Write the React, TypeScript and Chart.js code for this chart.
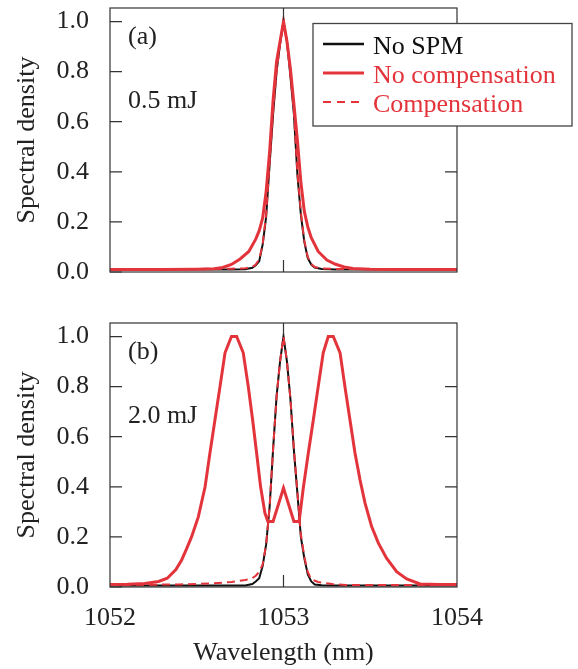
import React, { useEffect, useRef } from "react";
import { Chart, registerables } from "chart.js";

Chart.register(...registerables);

// ---------- data ----------
const xTickValues = [1052, 1053, 1054];
const yTickStep = 0.2;

// Panel (a) 0.5 mJ
const noSpmAWavelength = [1052.0, 1052.4, 1052.7, 1052.78, 1052.82, 1052.84, 1052.86, 1052.88, 1052.9, 1052.92, 1052.94, 1052.96, 1052.98, 1053.0, 1053.02, 1053.04, 1053.06, 1053.08, 1053.1, 1053.12, 1053.14, 1053.16, 1053.18, 1053.22, 1053.3, 1053.6, 1054.0];
const noSpmAValues = [0.01, 0.01, 0.01, 0.011, 0.017, 0.027, 0.043, 0.11, 0.22, 0.43, 0.63, 0.8, 0.91, 1.0, 0.92, 0.78, 0.63, 0.39, 0.23, 0.12, 0.055, 0.03, 0.018, 0.012, 0.01, 0.01, 0.01];

const noCompAWavelength = [1052.0, 1052.3, 1052.5, 1052.6, 1052.65, 1052.7, 1052.75, 1052.8, 1052.84, 1052.86, 1052.88, 1052.9, 1052.92, 1052.94, 1052.96, 1052.98, 1053.0, 1053.02, 1053.04, 1053.06, 1053.08, 1053.1, 1053.12, 1053.14, 1053.16, 1053.2, 1053.25, 1053.3, 1053.35, 1053.4, 1053.5, 1053.7, 1054.0];
const noCompAValues = [0.01, 0.01, 0.011, 0.013, 0.018, 0.03, 0.052, 0.082, 0.131, 0.165, 0.216, 0.322, 0.481, 0.685, 0.84, 0.92, 1.0, 0.92, 0.81, 0.67, 0.526, 0.36, 0.242, 0.18, 0.137, 0.082, 0.048, 0.031, 0.02, 0.014, 0.011, 0.01, 0.01];

const compAWavelength = [1052.0, 1052.4, 1052.7, 1052.78, 1052.82, 1052.84, 1052.86, 1052.88, 1052.9, 1052.92, 1052.94, 1052.96, 1052.98, 1053.0, 1053.02, 1053.04, 1053.06, 1053.08, 1053.1, 1053.12, 1053.14, 1053.16, 1053.18, 1053.22, 1053.3, 1053.6, 1054.0];
const compAValues = [0.012, 0.012, 0.013, 0.015, 0.02, 0.03, 0.05, 0.11, 0.23, 0.44, 0.64, 0.8, 0.91, 1.0, 0.92, 0.79, 0.64, 0.4, 0.24, 0.125, 0.06, 0.032, 0.02, 0.014, 0.012, 0.011, 0.011];

// Panel (b) 2.0 mJ
const noSpmBWavelength = [1052.0, 1052.4, 1052.7, 1052.78, 1052.82, 1052.84, 1052.86, 1052.88, 1052.9, 1052.92, 1052.94, 1052.96, 1052.98, 1053.0, 1053.02, 1053.04, 1053.06, 1053.08, 1053.1, 1053.12, 1053.14, 1053.16, 1053.18, 1053.22, 1053.3, 1053.6, 1054.0];
const noSpmBValues = [0.006, 0.006, 0.006, 0.006, 0.012, 0.022, 0.035, 0.085, 0.17, 0.32, 0.55, 0.76, 0.9, 1.0, 0.9, 0.75, 0.545, 0.375, 0.2, 0.115, 0.05, 0.022, 0.01, 0.007, 0.006, 0.006, 0.006];

const noCompBWavelength = [1052.0, 1052.1, 1052.2, 1052.28, 1052.33, 1052.38, 1052.413, 1052.44, 1052.47, 1052.509, 1052.548, 1052.576, 1052.605, 1052.634, 1052.663, 1052.7, 1052.73, 1052.768, 1052.797, 1052.822, 1052.845, 1052.868, 1052.893, 1052.91, 1052.94, 1053.0, 1053.06, 1053.09, 1053.114, 1053.143, 1053.172, 1053.2, 1053.229, 1053.258, 1053.287, 1053.326, 1053.354, 1053.383, 1053.412, 1053.441, 1053.47, 1053.508, 1053.547, 1053.594, 1053.652, 1053.71, 1053.787, 1053.9, 1054.0];
const noCompBValues = [0.01, 0.011, 0.014, 0.022, 0.035, 0.07, 0.108, 0.15, 0.2, 0.28, 0.4, 0.535, 0.668, 0.8, 0.935, 1.0, 1.0, 0.935, 0.8, 0.668, 0.535, 0.4, 0.295, 0.262, 0.262, 0.395, 0.262, 0.262, 0.395, 0.535, 0.668, 0.8, 0.935, 1.0, 1.0, 0.935, 0.8, 0.668, 0.535, 0.428, 0.335, 0.241, 0.175, 0.115, 0.061, 0.032, 0.012, 0.01, 0.01];

const compBWavelength = [1052.0, 1052.4, 1052.6, 1052.7, 1052.78, 1052.82, 1052.84, 1052.86, 1052.88, 1052.9, 1052.92, 1052.94, 1052.96, 1052.98, 1053.0, 1053.02, 1053.04, 1053.06, 1053.08, 1053.1, 1053.12, 1053.14, 1053.16, 1053.2, 1053.28, 1053.36, 1054.0];
const compBValues = [0.008, 0.01, 0.015, 0.02, 0.028, 0.035, 0.045, 0.06, 0.09, 0.17, 0.32, 0.55, 0.76, 0.9, 1.0, 0.9, 0.75, 0.55, 0.38, 0.21, 0.12, 0.06, 0.03, 0.02, 0.012, 0.008, 0.008];

const seriesLabels = ["No SPM", "No compensation", "Compensation"];
const panelTags = ["(a)", "(b)"];
const panelEnergies = ["0.5 mJ", "2.0 mJ"];

// ---------- styling ----------
const RED = "#e3343c";
const BLACK = "#111111";
const TEXT = "#222222";
const FRAME = "#333333";
const FAMILY = "'Liberation Serif', 'Times New Roman', Times, serif";
const FONT = { family: FAMILY, size: 26, lineHeight: 1.2 };

const zip = (xs: number[], ys: number[]) => xs.map((x, i) => ({ x, y: ys[i] }));

function makePlugin(tag: string, energy: string, withLegend: boolean) {
  return {
    id: "panelDecor" + tag,
    afterDraw(chart: any) {
      const { ctx, chartArea: a, scales } = chart;
      const xs = scales.x;
      const ys = scales.y;
      ctx.save();
      // frame
      ctx.strokeStyle = FRAME;
      ctx.lineWidth = 1.2;
      ctx.strokeRect(a.left, a.top, a.right - a.left, a.bottom - a.top);
      // inside ticks
      ctx.lineWidth = 1.2;
      ctx.beginPath();
      ys.ticks.forEach((t: any) => {
        const py = ys.getPixelForValue(t.value);
        ctx.moveTo(a.left, py);
        ctx.lineTo(a.left + 12, py);
        if (t.value > 0.001 && t.value < 0.999) {
          ctx.moveTo(a.right, py);
          ctx.lineTo(a.right - 12, py);
        }
      });
      xs.ticks.forEach((t: any) => {
        if (t.value > xs.min && t.value < xs.max) {
          const px = xs.getPixelForValue(t.value);
          ctx.moveTo(px, a.top);
          ctx.lineTo(px, a.top + 12);
          ctx.moveTo(px, a.bottom);
          ctx.lineTo(px, a.bottom - 12);
        }
      });
      ctx.stroke();

      // panel annotations
      ctx.fillStyle = TEXT;
      ctx.font = `26px ${FAMILY}`;
      ctx.textAlign = "left";
      ctx.textBaseline = "alphabetic";
      ctx.fillText(tag, a.left + 18, a.top + 36);
      ctx.fillText(energy, a.left + 18, a.top + 100);

      if (withLegend) {
        const bx = a.right - 144;
        const by = a.top + 15.5;
        const bw = 259;
        const bh = 102.5;
        ctx.fillStyle = "#ffffff";
        ctx.fillRect(bx, by, bw, bh);
        ctx.strokeStyle = "#444444";
        ctx.lineWidth = 1.3;
        ctx.strokeRect(bx, by, bw, bh);
        const rows = [
          { label: seriesLabels[0], color: BLACK, dash: [] as number[], width: 2.5, text: BLACK },
          { label: seriesLabels[1], color: RED, dash: [] as number[], width: 3, text: RED },
          { label: seriesLabels[2], color: RED, dash: [8, 6], width: 2, text: RED },
        ];
        rows.forEach((r, i) => {
          const ly = by + 20.5 + i * 29;
          ctx.beginPath();
          ctx.setLineDash(r.dash);
          ctx.strokeStyle = r.color;
          ctx.lineWidth = r.width;
          ctx.moveTo(bx + 10, ly);
          ctx.lineTo(bx + 51, ly);
          ctx.stroke();
          ctx.setLineDash([]);
          ctx.fillStyle = r.text;
          ctx.fillText(r.label, bx + 60, ly + 10);
        });
      }
      ctx.restore();
    },
  };
}

function makeConfig(
  noSpm: { x: number; y: number }[],
  noComp: { x: number; y: number }[],
  comp: { x: number; y: number }[],
  topPad: number,
  xHeight: number,
  showX: boolean,
  plugin: any
) {
  return {
    type: "line" as const,
    data: {
      datasets: [
        { label: seriesLabels[0], data: noSpm, borderColor: BLACK, borderWidth: 2, pointRadius: 0, tension: 0, fill: false, order: 3 },
        { label: seriesLabels[1], data: noComp, borderColor: RED, borderWidth: 3, pointRadius: 0, tension: 0, fill: false, order: 2 },
        { label: seriesLabels[2], data: comp, borderColor: RED, borderWidth: 2, borderDash: [8, 5], pointRadius: 0, tension: 0, fill: false, order: 1 },
      ],
    },
    options: {
      animation: false,
      responsive: false,
      maintainAspectRatio: false,
      devicePixelRatio: 1,
      layout: { padding: { left: 0, right: 121, top: topPad, bottom: 0 } },
      plugins: { legend: { display: false }, tooltip: { enabled: false } },
      scales: {
        x: {
          type: "linear",
          min: xTickValues[0],
          max: xTickValues[xTickValues.length - 1],
          afterBuildTicks: (s: any) => {
            s.ticks = xTickValues.map((v) => ({ value: v }));
          },
          ticks: {
            display: showX,
            stepSize: 1,
            padding: 8,
            maxRotation: 0,
            autoSkip: false,
            color: TEXT,
            font: FONT,
            callback: (v: any) => String(v),
          },
          grid: { display: false },
          border: { display: false },
          title: { display: showX, text: "Wavelength (nm)", color: TEXT, font: FONT, padding: { top: 0, bottom: 0 } },
          afterFit: (s: any) => {
            s.height = xHeight;
            s.paddingLeft = 0;
            s.paddingRight = 0;
          },
        },
        y: {
          type: "linear",
          min: 0,
          max: 1.054,
          ticks: {
            stepSize: yTickStep,
            includeBounds: false,
            padding: 13,
            color: TEXT,
            font: FONT,
            callback: (v: any) => Number(v).toFixed(1),
          },
          grid: { display: false },
          border: { display: false },
          title: { display: true, text: "Spectral density", color: TEXT, font: FONT, padding: { top: 12, bottom: 0 } },
          afterFit: (s: any) => {
            s.width = 110;
            s.paddingTop = 0;
            s.paddingBottom = 0;
          },
        },
      },
    },
    plugins: [plugin],
  };
}

export default function App() {
  const topRef = useRef<HTMLCanvasElement>(null);
  const botRef = useRef<HTMLCanvasElement>(null);

  useEffect(() => {
    const c1 = new Chart(
      topRef.current as HTMLCanvasElement,
      makeConfig(
        zip(noSpmAWavelength, noSpmAValues),
        zip(noCompAWavelength, noCompAValues),
        zip(compAWavelength, compAValues),
        8,
        28,
        false,
        makePlugin(panelTags[0], panelEnergies[0], true)
      ) as any
    );
    const c2 = new Chart(
      botRef.current as HTMLCanvasElement,
      makeConfig(
        zip(noSpmBWavelength, noSpmBValues),
        zip(noCompBWavelength, noCompBValues),
        zip(compBWavelength, compBValues),
        23,
        82,
        true,
        makePlugin(panelTags[1], panelEnergies[1], false)
      ) as any
    );
    return () => {
      c1.destroy();
      c2.destroy();
    };
  }, []);

  return (
    <div style={{ position: "absolute", left: 0, top: 0, width: 578, height: 669, background: "#ffffff" }}>
      <canvas ref={topRef} width={578} height={300} style={{ position: "absolute", left: 0, top: 0 }} />
      <canvas ref={botRef} width={578} height={369} style={{ position: "absolute", left: 0, top: 300 }} />
    </div>
  );
}
